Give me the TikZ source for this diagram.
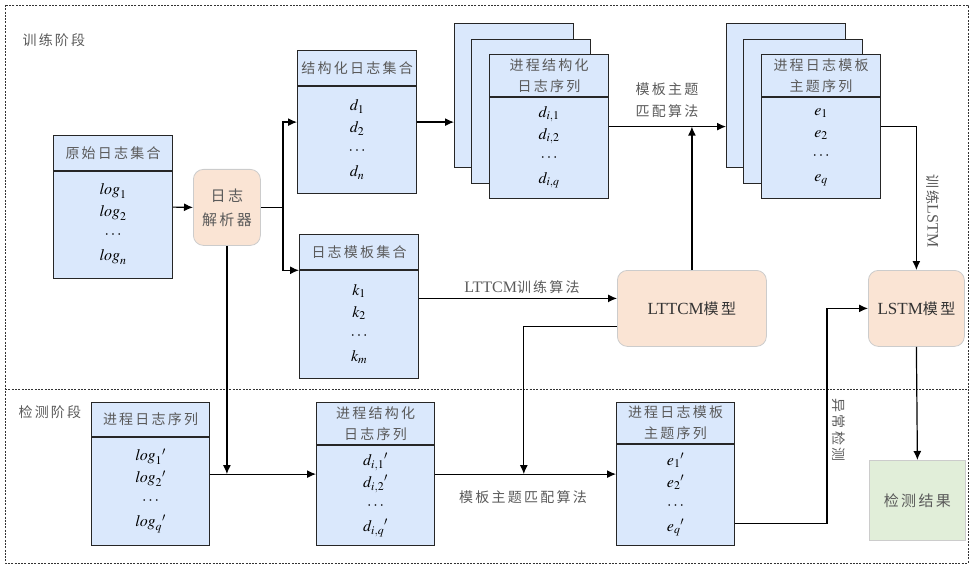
\documentclass[tikz,border=0pt]{standalone}
\usepackage{mathptmx}
\usepackage{fontspec}
\setmainfont{Liberation Serif}
\newfontfamily\cjk[LetterSpace=16]{Noto Sans CJK SC}
\usetikzlibrary{arrows.meta,calc}
\definecolor{bfill}{HTML}{DAE8FC}
\definecolor{pfill}{HTML}{FAE4D4}
\definecolor{gfill}{HTML}{E1EED9}
\definecolor{txt}{HTML}{5A5A5A}
\newcommand\mylistbox[8]{%
  \node[lb, minimum width=#4pt, minimum height=#5pt, anchor=north west] (#1) at (#2,#3) {};
  \draw[lbline] ([yshift=-#6pt]#1.north west) -- ([yshift=-#6pt]#1.north east);
  \node[hdr] (#1-h) at ([yshift={-#6pt/2}]#1.north) {#7};
  \node[items] (#1-b) at ([yshift={-(#5pt+#6pt)/2}]#1.north) {#8};
}
\begin{document}
\begin{tikzpicture}[x=1pt,y=-1pt,
 lb/.style={draw=black!85, line width=1.2pt, fill=bfill, inner sep=0pt},
 stk/.style={draw=black!85, line width=1.2pt, fill=bfill, inner sep=0pt, minimum width=119pt, minimum height=144pt, anchor=north west},
 lbline/.style={draw=black!85, line width=1.2pt},
 hdr/.style={font=\cjk\fontsize{14}{21}\selectfont, text=txt, align=center},
 items/.style={font=\fontsize{16}{22}\selectfont, align=center},
 rbox/.style={draw=black!20, line width=0.8pt, fill=pfill, rounded corners=10pt, inner sep=0pt, anchor=north west, align=center},
 arr/.style={-{Latex[length=9pt,width=8pt]}, line width=1.2pt},
 ln/.style={line width=1.2pt},
 lab/.style={font=\cjk\fontsize{14}{22}\selectfont, text=txt, align=center},
 frame/.style={dash pattern=on 2pt off 1.3pt, line width=0.9pt, draw=black!80}]

\useasboundingbox (0,0) rectangle (972,567);
\draw[frame] (5,5) rectangle (968,563);
\draw[frame] (5,389) -- (968,389);

\node[lab, anchor=west] (stage1) at (19,40) {训练阶段};
\node[lab, anchor=west] (stage2) at (15,412) {检测阶段};

% training stage
\mylistbox{raw}{53}{135}{119}{143}{36}{原始日志集合}{$\mathit{log}_1$\\$\mathit{log}_2$\\$\cdots$\\$\mathit{log}_n$}
\node[rbox, minimum width=67pt, minimum height=76pt, font=\cjk\fontsize{15}{24}\selectfont, text=txt] (parser) at (193,169) {日志\\解析器};
\mylistbox{struct}{297}{50}{119}{143}{36}{结构化日志集合}{$d_1$\\$d_2$\\$\cdots$\\$d_n$}
\mylistbox{tmpl}{299}{234}{119}{144}{36}{日志模板集合}{$k_1$\\$k_2$\\$\cdots$\\$k_m$}

\node[stk] (s1b) at (454,23) {};
\node[stk] (s1m) at (471,39) {};
\mylistbox{s1f}{489}{54}{119}{144}{43}{进程结构化\\日志序列}{$d_{i,1}$\\$d_{i,2}$\\$\cdots$\\$d_{i,q}$}

\node[stk] (s2b) at (726,23) {};
\node[stk] (s2m) at (743,39) {};
\mylistbox{s2f}{761}{54}{119}{144}{43}{进程日志模板\\主题序列}{$e_1$\\$e_2$\\$\cdots$\\$e_q$}

\node[rbox, minimum width=149pt, minimum height=76pt, font=\cjk\fontsize{15}{20}\selectfont, text=black!80] (lttcm) at (617,270) {{\rmfamily\fontsize{17}{20}\selectfont LTTCM}模型};
\node[rbox, minimum width=96pt, minimum height=76pt, font=\cjk\fontsize{15}{20}\selectfont, text=black!80] (lstm) at (868,270) {{\rmfamily\fontsize{17}{20}\selectfont LSTM}模型};

% detection stage
\mylistbox{plog}{91}{402}{118}{143}{35}{进程日志序列}{$\mathit{log}_1{}'$\\$\mathit{log}_2{}'$\\$\cdots$\\$\mathit{log}_q{}'$}
\mylistbox{pstruct}{316}{402}{118}{143}{43}{进程结构化\\日志序列}{$d_{i,1}{}'$\\$d_{i,2}{}'$\\$\cdots$\\$d_{i,q}{}'$}
\mylistbox{pe}{616}{402}{118}{143}{42}{进程日志模板\\主题序列}{$e_1{}'$\\$e_2{}'$\\$\cdots$\\$e_q{}'$}
\node[draw=black!20, line width=0.8pt, fill=gfill, minimum width=96pt, minimum height=80pt, anchor=north west, font=\cjk\fontsize{15}{20}\selectfont, text=txt] (result) at (869,460) {检测结果};

% connectors
\draw[arr] (raw.east) -- (parser.west);
\coordinate (jx) at (283,0);
\draw[ln] (parser.east) -- (parser.east -| jx);
\draw[arr] (parser.east -| jx) |- (struct.west);
\draw[arr] (parser.east -| jx) |- ($(tmpl.north west)!0.25!(tmpl.south west)$);
\draw[arr] (struct.east) -- (struct.east -| s1b.west);
\draw[arr] (s1f.east) -- (s1f.east -| s2b.west);
\node[lab] (alg1) at (667,100) {模板主题\\匹配算法};
\draw[arr] (lttcm.north) -- (lttcm.north |- s1f.east);
\draw[arr] (s2f.east) -| (lstm.north);
\node[lab, rotate=-90] (trainlab) at (933,211) {训练{\rmfamily\fontsize{16}{20}\selectfont LSTM}};
\coordinate (tin) at ($(lttcm.north west)!0.37!(lttcm.south west)$);
\draw[arr] (tmpl.east |- tin) -- (tin);
\node[lab] (alg2) at (522,287) {{\rmfamily\fontsize{16}{20}\selectfont LTTCM}训练算法};
\coordinate (lout) at ($(lttcm.north west)!0.74!(lttcm.south west)$);
\coordinate (m2) at ($(pstruct.east)!0.49!(pe.west)$);
\draw[arr] (lout) -| (m2);
\draw[arr] (parser.south) -- (parser.south |- plog.east);
\draw[arr] (plog.east) -- (pstruct.west);
\draw[arr] (pstruct.east) -- (pe.west);
\node[lab] (alg3) at (523,497) {模板主题匹配算法};
\coordinate (eout) at ($(pe.north east)!0.84!(pe.south east)$);
\coordinate (kx) at (827,0);
\draw[arr] (eout) -| (kx |- lstm.west) -- (lstm.west);
\node[lab, rotate=-90] (anlab) at (839,430) {异常检测};
\draw[arr] (lstm.south) -- (result.north);
\end{tikzpicture}
\end{document}
